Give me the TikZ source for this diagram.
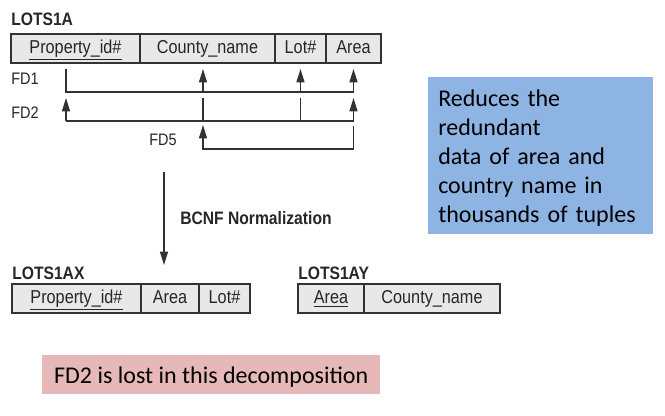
\documentclass[tikz,border=0pt]{standalone}
\usepackage{fontspec}
\setmainfont{Liberation Sans}
\newfontfamily\figfont[FakeStretch=0.87]{Liberation Sans}
\newfontfamily\calibrifont{Carlito}
\usetikzlibrary{positioning,calc,arrows.meta}
\usepackage{xcolor}
\definecolor{cellgray}{RGB}{232,232,232}
\definecolor{linegray}{RGB}{50,50,50}
\definecolor{noteblue}{RGB}{142,180,227}
\definecolor{lostpink}{RGB}{230,185,184}

\begin{document}
\begin{tikzpicture}[
    x=0.75pt, y=-0.75pt,
    cell/.style={rectangle, draw=linegray, fill=cellgray, line width=0.9pt,
                 minimum height=21.75pt, inner sep=0pt, outer sep=0pt,
                 text height=11pt, text depth=3pt,
                 font=\figfont\fontsize{14}{16}\selectfont, text=black!85},
    relname/.style={font=\figfont\fontsize{13.5}{16}\selectfont\bfseries, text=black!85, inner sep=0pt},
    fdlabel/.style={font=\figfont\fontsize{12.5}{15}\selectfont, text=black!85, inner sep=0pt},
    fdline/.style={draw=linegray, line width=0.9pt},
    fdarrow/.style={fdline, -{Triangle[length=10pt,width=6pt]}},
    note/.style={rectangle, inner ysep=0pt, font=\calibrifont\fontsize{18}{21.8}\selectfont, text=black}
]

\useasboundingbox (0,0) rectangle (665,416);

% LOTS1A
\node[cell, minimum width=96.75pt, anchor=north west] (pid) at (11,34) {\underline{Property\_id\#}};
\node[cell, minimum width=101.25pt, right=0pt of pid] (cname) {County\_name};
\node[cell, minimum width=38.25pt, right=0pt of cname] (lot) {Lot\#};
\node[cell, minimum width=41.25pt, right=0pt of lot] (area) {Area};
\node[relname, above right=6pt and 0pt of pid.north west] (lotsa) {LOTS1A};

% Attribute columns
\coordinate (xP) at ($(pid.south)+(-9.5,0)$);
\coordinate (xC) at ($(cname.south)+(-4.5,0)$);
\coordinate (xL) at (lot.south);
\coordinate (xA) at (area.south);

% FD1
\node[fdlabel, anchor=west] (fd1) at (11,79) {FD1};
\draw[fdline] ($(xP)+(0,6)$) |- ($(xA)+(0,29)$);
\foreach \c in {xC,xL,xA}
    \draw[fdarrow] ($(\c)+(0,29)$) -- ($(\c)+(0,6)$);

% FD2
\node[fdlabel, anchor=west] (fd2) at (11,113) {FD2};
\draw[fdline] ($(xP)+(0,58)$) -- ($(xA)+(0,58)$);
\foreach \c in {xP,xA}
    \draw[fdarrow] ($(\c)+(0,58)$) -- ($(\c)+(0,35)$);
\foreach \c in {xC,xL}
    \draw[fdline] ($(\c)+(0,35)$) -- ($(\c)+(0,58)$);

% FD5
\node[fdlabel, anchor=west] (fd5) at (149,140) {FD5};
\draw[fdarrow] ($(xA)+(0,63)$) |- ($(xC)+(0,86)$) -- ($(xC)+(0,62)$);

% Normalization step
\coordinate (bcnftop) at (164,172);
\coordinate (bcnfend) at (164,265);
\draw[fdarrow] (bcnftop) -- (bcnfend);
\node[relname, anchor=west] (bcnf) at (180,218) {BCNF Normalization};

% LOTS1AX
\node[cell, minimum width=96.75pt, anchor=north west] (pidx) at (12,284) {\underline{Property\_id\#}};
\node[cell, minimum width=43.5pt, right=0pt of pidx] (areax) {Area};
\node[cell, minimum width=38.25pt, right=0pt of areax] (lotx) {Lot\#};
\node[relname, above right=3pt and 0pt of pidx.north west] (lotsax) {LOTS1AX};

% LOTS1AY
\node[cell, minimum width=49.5pt, anchor=north west] (areay) at (298,284) {\underline{Area}};
\node[cell, minimum width=102pt, right=0pt of areay] (cnamey) {County\_name};
\node[relname, above right=3pt and 0pt of areay.north west] (lotsay) {LOTS1AY};

% Notes
\node[note, fill=noteblue, anchor=north west, text width=153.75pt, inner xsep=7.5pt,
      align=left] (redund) at (428,77)
      {\rule{0pt}{21.75pt}Reduces the\\redundant\\data of area and\\country name in\\thousands of tuples\rule[-8.5pt]{0pt}{0pt}};
\node[note, fill=lostpink, anchor=north west, minimum width=253.5pt,
      inner xsep=0pt] (lost) at (42,355)
      {\rule[-8.25pt]{0pt}{29.25pt}FD2 is lost in this decomposition};

\end{tikzpicture}
\end{document}
